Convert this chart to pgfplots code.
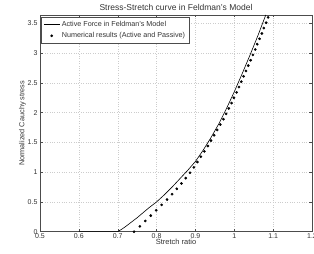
\documentclass[border=0pt]{standalone}
\usepackage{fontspec}
\setmainfont{Liberation Sans}
\usepackage{pgfplots}
\pgfplotsset{compat=1.18}
\pgfplotsset{
  shortline legend/.style={legend image code/.code={\draw[##1] (0pt,0pt) -- (0.55cm,0pt);}},
  dot legend/.style={legend image code/.code={\draw[##1] plot coordinates {(0.275cm,0pt)};}},
}
\begin{document}
\begin{tikzpicture}[x=1pt,y=1pt]
\useasboundingbox (0,0) rectangle (314,254);
\begin{axis}[
  at={(40pt,22.3pt)}, anchor=south west,
  scale only axis, width=272pt, height=216.7pt,
  xmin=0.5, xmax=1.2, ymin=0, ymax=3.64,
  xtick={0.5,0.6,0.7,0.8,0.9,1,1.1,1.2},
  xticklabels={0.5,0.6,0.7,0.8,0.9,1,1.1,1.2},
  ytick={0,0.5,1,1.5,2,2.5,3,3.5},
  yticklabels={0,0.5,1,1.5,2,2.5,3,3.5},
  grid=major,
  major grid style={dotted, gray!40, line width=0.4pt},
  axis line style={gray!60!black, line width=0.5pt},
  tick style={gray!60!black, line width=0.4pt},
  major tick length=2.5pt,
  tick align=inside,
  ticklabel style={font=\fontsize{7}{8}\selectfont, text=black!80},
  xticklabel style={yshift=2pt},
  yticklabel style={xshift=1pt},
  title={Stress-Stretch curve in Feldman's Model},
  title style={font=\fontsize{8.5}{9}\selectfont, text=black!80, yshift=-5pt},
  xlabel={Stretch ratio},
  ylabel={Normalized Cauchy stress},
  xlabel style={font=\fontsize{7.5}{8}\selectfont, text=black!80, yshift=6pt},
  ylabel style={font=\fontsize{7.3}{8}\selectfont, text=black!80, yshift=-5pt},
  legend style={at={(rel axis cs:0.005,0.993)}, anchor=north west,
    font=\fontsize{7.2}{8}\selectfont, text=black!80, draw=gray!60!black,
    line width=0.4pt, inner xsep=2pt, inner ysep=2.5pt, row sep=0.5pt,
    legend cell align=left},
]
\addplot[black, line width=0.6pt, shortline legend] coordinates {
(0.6,0) (0.7,0) (0.71,0.04) (0.72,0.085) (0.73,0.135) (0.74,0.185) (0.75,0.235)
(0.76,0.29) (0.77,0.345) (0.78,0.40) (0.79,0.45) (0.80,0.50) (0.82,0.62)
(0.84,0.75) (0.86,0.89) (0.88,1.03) (0.90,1.18) (0.92,1.37) (0.94,1.58)
(0.96,1.81) (0.98,2.07) (1.00,2.35) (1.02,2.65) (1.04,2.96) (1.06,3.28) (1.081,3.64)
};
\addlegendentry{Active Force in Feldman's Model}
\addplot[only marks, mark=*, mark size=1.15pt, black, dot legend] coordinates {
(0.742,0) (0.757,0.09) (0.771,0.18) (0.785,0.27) (0.799,0.36) (0.813,0.45)
(0.827,0.54) (0.840,0.63) (0.852,0.72) (0.864,0.81) (0.875,0.90) (0.886,0.99)
(0.896,1.08) (0.905,1.17) (0.914,1.26) (0.923,1.35) (0.932,1.44) (0.940,1.53)
(0.948,1.62) (0.956,1.71) (0.964,1.80) (0.972,1.89) (0.979,1.98) (0.986,2.07)
(0.993,2.16) (0.999,2.25) (1.006,2.34) (1.012,2.43) (1.018,2.52) (1.024,2.61)
(1.030,2.70) (1.036,2.79) (1.042,2.88) (1.048,2.97) (1.054,3.06) (1.059,3.15)
(1.065,3.24) (1.071,3.33) (1.076,3.42) (1.082,3.51) (1.087,3.60)
};
\addlegendentry{Numerical results (Active and Passive)}
\end{axis}
\end{tikzpicture}
\end{document}
